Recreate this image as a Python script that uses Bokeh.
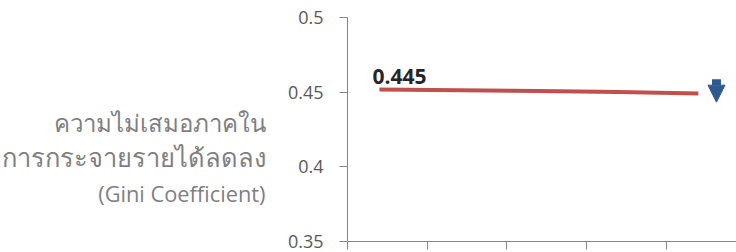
from bokeh.plotting import figure
from bokeh.layouts import row
from bokeh.models import Range1d, FixedTicker, Label, Arrow, NormalHead
from bokeh.embed import file_html
from bokeh.resources import INLINE

# ---- data ----
periods = [1, 2, 3, 4, 5]
gini = [0.4518, 0.4513, 0.4507, 0.4501, 0.4491]
value_label = "0.445"
y_ticks = [0.35, 0.4, 0.45, 0.5]
y_tick_labels = ["0.35", "0.4", "0.45", "0.5"]
title_lines = ["ความไม่เสมอภาคใน", "การกระจายรายได้ลดลง", "(Gini Coefficient)"]
arrow_from = 0.4587
arrow_to = 0.4433

FONT = "Open Sans"
AXIS_COLOR = "#868686"
LEFT_W = 280
H = 252

# ---- left text panel ----
t = figure(width=LEFT_W, height=H, output_backend="svg", toolbar_location=None,
           x_range=Range1d(0, LEFT_W), y_range=Range1d(0, H))
t.axis.visible = False
t.grid.visible = False
t.outline_line_color = None
t.min_border = 0
t.min_border_left = t.min_border_right = t.min_border_top = t.min_border_bottom = 0
for txt, yy, fs in zip(title_lines, [134, 95, 54], ["24px", "25.5px", "21.8px"]):
    t.add_layout(Label(x=265, y=yy, text=txt,
                       text_font=FONT, text_font_size=fs, text_color="#7F7F7F",
                       text_align="right", text_baseline="alphabetic"))

# ---- chart ----
p = figure(width=736 - LEFT_W, height=H, output_backend="svg", toolbar_location=None,
           x_range=Range1d(periods[0] - 0.4, periods[0] - 0.4 + 4.878),
           y_range=Range1d(y_ticks[0], y_ticks[-1]))
p.min_border_left = 347 - LEFT_W
p.min_border_top = 17
p.min_border_bottom = 11
p.min_border_right = 0
p.outline_line_color = None
p.grid.visible = False
p.background_fill_color = "white"
p.border_fill_color = "white"

# y axis
p.yaxis.ticker = FixedTicker(ticks=y_ticks)
p.yaxis.major_label_overrides = {tk: lb for tk, lb in zip(y_ticks, y_tick_labels)}
p.yaxis.minor_tick_line_color = None
p.yaxis.major_tick_in = 0
p.yaxis.major_tick_out = 8
p.yaxis.major_label_standoff = 16
p.yaxis.major_label_text_font = FONT
p.yaxis.major_label_text_font_size = "18px"
p.yaxis.major_label_text_color = "#595959"
p.yaxis.axis_line_color = AXIS_COLOR
p.yaxis.major_tick_line_color = AXIS_COLOR

# x axis (category boundaries, no labels)
p.xaxis.ticker = FixedTicker(ticks=[x - 0.4 for x in periods])
p.xaxis.major_label_overrides = {x - 0.4: "" for x in periods}
p.xaxis.major_label_text_font_size = "0px"
p.xaxis.major_label_standoff = 0
p.xaxis.minor_tick_line_color = None
p.xaxis.major_tick_in = 0
p.xaxis.major_tick_out = 8
p.xaxis.axis_line_color = AXIS_COLOR
p.xaxis.major_tick_line_color = AXIS_COLOR

# line
p.line(periods, gini, line_color="#C0504D", line_width=4)

# value label
p.add_layout(Label(x=periods[0], y=gini[0], text=value_label, x_offset=-7, y_offset=13,
                   text_font=FONT, text_font_size="21px", text_font_style="bold",
                   text_color="#262626",
                   text_baseline="alphabetic", text_align="left"))

# down arrow
p.add_layout(Arrow(x_start=periods[-1] + 0.227, y_start=arrow_from,
                   x_end=periods[-1] + 0.227, y_end=arrow_to,
                   line_color="#2E5A94", line_width=9,
                   end=NormalHead(size=17, fill_color="#2E5A94", line_color="#2E5A94")))

layout = row(t, p, spacing=0)
open("out.html", "w").write(file_html(layout, INLINE))
